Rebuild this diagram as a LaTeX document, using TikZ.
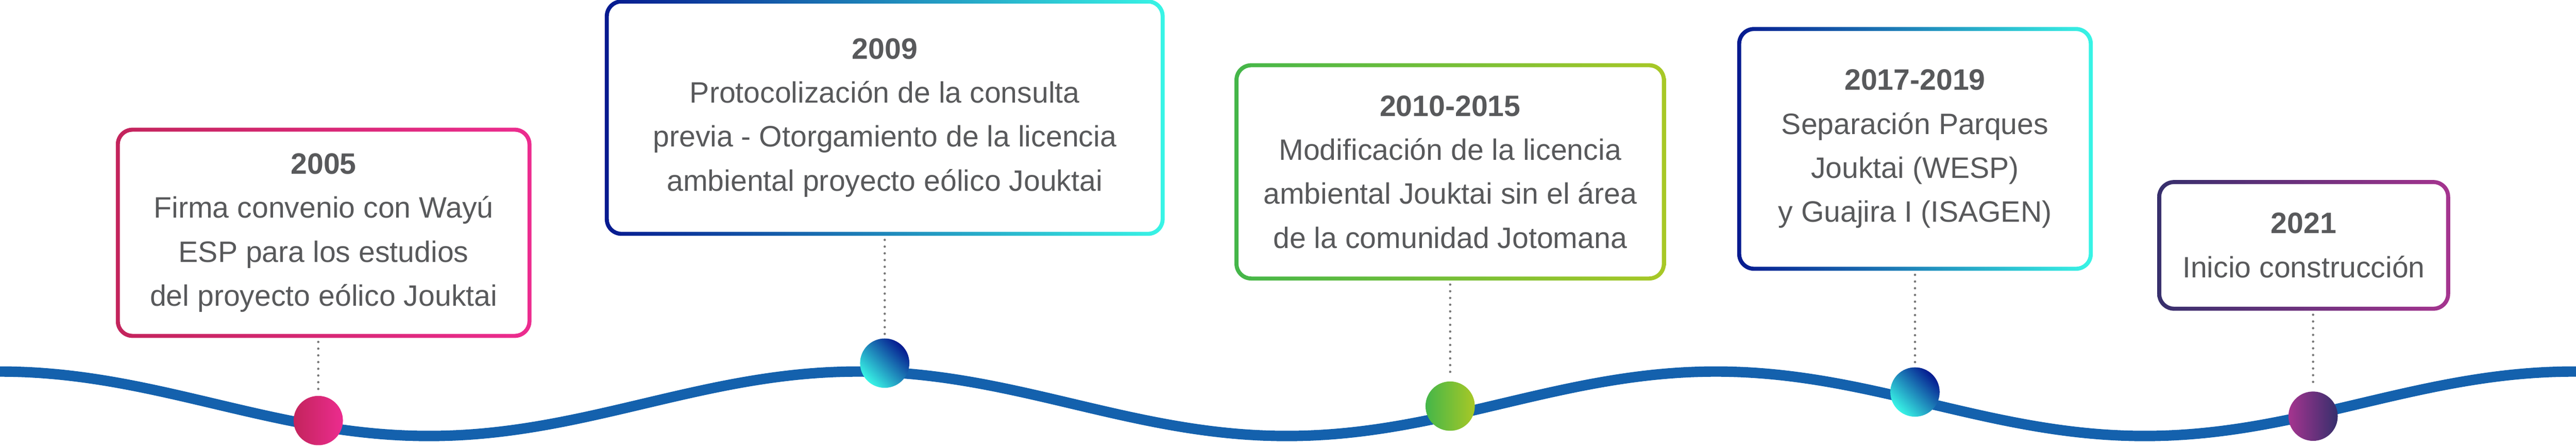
\documentclass[tikz,border=0pt]{standalone}
\usepackage{fontspec}
\setmainfont{Liberation Sans}
\usetikzlibrary{positioning}

\definecolor{pinkL}{HTML}{C3245C}
\definecolor{pinkR}{HTML}{EC2C8F}
\definecolor{navy}{HTML}{05198F}
\definecolor{cyan}{HTML}{38F5E6}
\definecolor{greenL}{HTML}{44B649}
\definecolor{greenR}{HTML}{A8C826}
\definecolor{purpD}{HTML}{362F6C}
\definecolor{purpM}{HTML}{A5348F}
\definecolor{txtgray}{HTML}{58595B}
\definecolor{dotgray}{HTML}{777777}
\definecolor{waveblue}{HTML}{1461AD}

\begin{document}
\begin{tikzpicture}[
    yearbox/.style={rectangle, inner sep=0pt, align=center, text=txtgray, font=\fontsize{25}{37.3}\selectfont},
    dot/.style={circle, inner sep=0pt, minimum size=1.47cm},
    link/.style={draw=dotgray, line width=0.07cm, line cap=round, dash pattern=on 0pt off 0.2cm, shorten <=0.12cm, shorten >=0.12cm},
    wave/.style={draw=waveblue, line width=0.31cm}
]
    \useasboundingbox (0,0) rectangle (76.81,13.28);

    % Wave (period 25.58)
    \draw[wave] plot[domain=0:76.81, samples=300, smooth] (\x, {1.25+0.96*cos(14.0735*\x)});

    % Dots
    \node[dot, left color=pinkL, right color=pinkR] (d1) at (9.49,0.75) {};
    \node[dot, top color=navy, bottom color=cyan, shading angle=-45] (d2) at (26.38,2.46) {};
    \node[dot, left color=greenL, right color=greenR] (d3) at (43.24,1.18) {};
    \node[dot, top color=navy, bottom color=cyan, shading angle=-45] (d4) at (57.10,1.60) {};
    \node[dot, left color=purpM, right color=purpD] (d5) at (68.97,0.88) {};

    % 2005
    \node[yearbox, minimum width=12.38cm, minimum height=6.25cm, above=1.72cm of d1, xshift=0.16cm] (b1) {
        \textbf{2005}\\
        Firma convenio con Wayú\\
        ESP para los estudios\\
        del proyecto eólico Jouktai
    };

    % 2009
    \node[yearbox, minimum width=16.68cm, minimum height=7.03cm, above=3.05cm of d2] (b2) {
        \textbf{2009}\\
        Protocolización de la consulta\\
        previa - Otorgamiento de la licencia\\
        ambiental proyecto eólico Jouktai
    };

    % 2010-2015
    \node[yearbox, minimum width=12.85cm, minimum height=6.46cm, above=3.0cm of d3] (b3) {
        \textbf{2010-2015}\\
        Modificación de la licencia\\
        ambiental Jouktai sin el área\\
        de la comunidad Jotomana
    };

    % 2017-2019
    \node[yearbox, minimum width=10.59cm, minimum height=7.25cm, above=2.87cm of d4] (b4) {
        \textbf{2017-2019}\\
        Separación Parques\\
        Jouktai (WESP)\\
        y Guajira I (ISAGEN)
    };

    % 2021
    \node[yearbox, minimum width=8.72cm, minimum height=3.88cm, above=2.4cm of d5, xshift=-0.28cm] (b5) {
        \textbf{2021}\\
        Inicio construcción
    };

    % Frames
    \foreach \b/\cl/\cr in {b1/pinkL/pinkR, b2/navy/cyan, b3/greenL/greenR, b4/navy/cyan, b5/purpD/purpM}
        \shade[left color=\cl, right color=\cr, even odd rule, rounded corners=0.5cm]
            (\b.south west) rectangle (\b.north east)
            [rounded corners=0.38cm] ([shift={(0.12,0.12)}]\b.south west) rectangle ([shift={(-0.12,-0.12)}]\b.north east);

    % Links
    \draw[link] (d1 |- b1.south) -- (d1.north);
    \draw[link] (d2 |- b2.south) -- (d2.north);
    \draw[link] (d3 |- b3.south) -- (d3.north);
    \draw[link] (d4 |- b4.south) -- (d4.north);
    \draw[link] (d5 |- b5.south) -- (d5.north);

\end{tikzpicture}
\end{document}
